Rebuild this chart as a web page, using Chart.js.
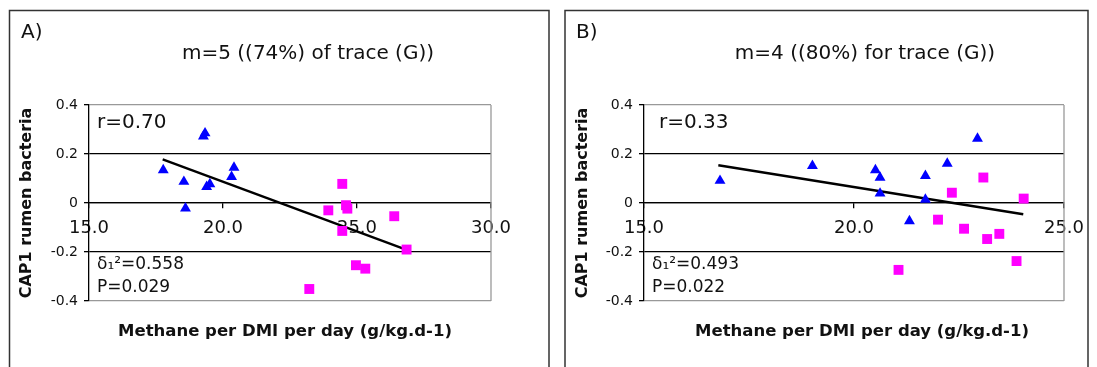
<!DOCTYPE html>
<html>
<head>
<meta charset="utf-8">
<script src="https://cdn.jsdelivr.net/npm/chart.js@4.4.0/dist/chart.umd.min.js"></script>
<style>
  html, body { margin: 0; padding: 0; background: #fff; }
  body { width: 1097px; height: 367px; position: relative; overflow: hidden; }
  .panel { position: absolute; top: 0; height: 367px; }
  #panelA { left: 0; width: 556px; }
  #panelB { left: 556px; width: 541px; }
</style>
</head>
<body>
<div class="panel" id="panelA"><canvas id="chartA" width="556" height="367"></canvas></div>
<div class="panel" id="panelB"><canvas id="chartB" width="541" height="367"></canvas></div>
<script>
// ---- data ----
var yTicks  = [-0.4, -0.2, 0, 0.2, 0.4];
var xTicksA = [15, 20, 25, 30];
var xTicksB = [15, 20, 25];

// panel A
var triAx = [17.77, 19.27, 19.33, 18.54, 18.60, 19.39, 19.51, 20.32, 20.41];
var triAy = [0.134, 0.272, 0.285, 0.087, -0.022, 0.066, 0.077, 0.107, 0.145];
var sqAx  = [24.45, 24.59, 24.64, 23.93, 26.39, 24.45, 24.96, 25.31, 23.22, 26.85];
var sqAy  = [0.078, -0.009, -0.023, -0.030, -0.054, -0.114, -0.254, -0.268, -0.351, -0.190];
var trendAx = [17.75, 26.83];
var trendAy = [0.178, -0.190];

// panel B
var triBx = [16.81, 19.01, 20.51, 20.62, 20.62, 21.70, 21.70, 22.22, 22.94, 21.32];
var triBy = [0.091, 0.152, 0.134, 0.104, 0.039, 0.111, 0.014, 0.161, 0.263, -0.074];
var sqBx  = [23.08, 22.33, 24.04, 22.00, 22.62, 23.17, 23.46, 23.87, 21.06];
var sqBy  = [0.104, 0.042, 0.018, -0.068, -0.105, -0.147, -0.126, -0.237, -0.273];
var trendBx = [16.77, 24.03];
var trendBy = [0.154, -0.046];

// texts
var yTitle = 'CAP1 rumen bacteria';
var xTitle = 'Methane per DMI per day (g/kg.d-1)';
var textA = { letter: 'A)', title: 'm=5 ((74%) of trace (G))', r: 'r=0.70', d: 'δ₁²=0.558', p: 'P=0.029' };
var textB = { letter: 'B)', title: 'm=4 ((80%) for trace (G))', r: 'r=0.33', d: 'δ₁²=0.493', p: 'P=0.022' };

function pts(xs, ys) {
    return xs.map(function (x, i) { return { x: x, y: ys[i] }; });
}

// frame, titles and notes drawn on top
var panelText = {
    id: 'panelText',
    beforeDatasetsDraw: function (chart) {
        var a = chart.chartArea, c = chart.ctx;
        c.save();
        c.strokeStyle = '#999';
        c.lineWidth = 1.3;
        c.beginPath();
        c.moveTo(a.right, a.top);
        c.lineTo(a.right, a.bottom);
        c.stroke();
        c.restore();
    },
    afterDraw: function (chart, args, o) {
        var a = chart.chartArea, c = chart.ctx, t = o.t;
        c.save();
        // panel frame
        c.strokeStyle = '#333';
        c.lineWidth = 1.5;
        c.beginPath();
        c.moveTo(o.frameL, 367);
        c.lineTo(o.frameL, 10.5);
        c.lineTo(o.frameR, 10.5);
        c.lineTo(o.frameR, 367);
        c.stroke();

        c.fillStyle = '#111';
        c.textBaseline = 'middle';
        c.textAlign = 'left';
        c.font = '20px "DejaVu Sans"';
        c.fillText(t.letter, o.letterX, 33);
        c.fillText(t.r, a.left + o.rOff, 123);
        c.textAlign = 'center';
        c.fillText(t.title, o.titleX, 54);

        c.textAlign = 'left';
        c.font = '17px "DejaVu Sans"';
        c.fillText(t.d, a.left + 8, 265);
        c.fillText(t.p, a.left + 8, 288);

        c.font = 'bold 16.5px "DejaVu Sans"';
        c.textAlign = 'center';
        c.fillText(xTitle, o.xTitleX, 332);
        c.font = 'bold 16px "DejaVu Sans"';
        c.translate(o.yTitleX, (a.top + a.bottom) / 2);
        c.rotate(-Math.PI / 2);
        c.fillText(yTitle, 0, 0);
        c.restore();
    }
};

function isEdge(v) { return Math.abs(Math.abs(v) - 0.4) < 1e-9; }

function makeChart(id, cfg) {
    return new Chart(document.getElementById(id), {
        type: 'scatter',
        data: {
            datasets: [
                { data: pts(cfg.triX, cfg.triY), pointStyle: 'triangle', pointRadius: 6.3,
                  backgroundColor: '#0000ff', borderColor: '#0000ff', borderWidth: 0 },
                { data: pts(cfg.sqX, cfg.sqY), pointStyle: 'rect', pointRadius: 7,
                  backgroundColor: '#ff00ff', borderColor: '#ff00ff', borderWidth: 0 },
                { data: pts(cfg.trendX, cfg.trendY), showLine: true, pointRadius: 0,
                  borderColor: '#000', borderWidth: 2.4, fill: false }
            ]
        },
        options: {
            responsive: false,
            animation: false,
            devicePixelRatio: 1,
            layout: { padding: cfg.pad },
            plugins: {
                legend: { display: false },
                tooltip: { enabled: false },
                panelText: cfg.text
            },
            scales: {
                x: {
                    type: 'linear',
                    position: { y: 0 },
                    min: cfg.xTicks[0],
                    max: cfg.xTicks[cfg.xTicks.length - 1],
                    afterBuildTicks: function (s) {
                        s.ticks = cfg.xTicks.map(function (v) { return { value: v }; });
                    },
                    ticks: {
                        callback: function (v) { return Number(v).toFixed(1); },
                        font: { family: 'DejaVu Sans', size: 18 },
                        color: '#111', padding: 10, maxRotation: 0, autoSkip: false
                    },
                    grid: { drawOnChartArea: false, tickLength: 5, tickColor: '#000', lineWidth: 1.3 },
                    border: { color: '#000', width: 1.3 }
                },
                y: {
                    min: -0.4,
                    max: 0.4,
                    afterBuildTicks: function (s) {
                        s.ticks = yTicks.map(function (v) { return { value: v }; });
                    },
                    afterFit: function (s) { s.width = 40; },
                    ticks: {
                        callback: function (v) { return Math.abs(v) < 1e-9 ? '0' : Number(v).toFixed(1); },
                        font: { family: 'DejaVu Sans', size: 14 },
                        color: '#111', padding: 6
                    },
                    grid: {
                        color: function (ctx) { return ctx.tick && isEdge(ctx.tick.value) ? '#999' : '#000'; },
                        tickColor: '#000', tickLength: 5, lineWidth: 1.3
                    },
                    border: { color: '#000', width: 1.3 }
                }
            }
        },
        plugins: [panelText]
    });
}

makeChart('chartA', {
    triX: triAx, triY: triAy, sqX: sqAx, sqY: sqAy, trendX: trendAx, trendY: trendAy,
    xTicks: xTicksA,
    pad: { left: 49, top: 105, right: 65, bottom: 66 },
    text: { t: textA, frameL: 9.5, frameR: 549, letterX: 21, titleX: 308, rOff: 8,
            xTitleX: 285, yTitleX: 27 }
});

makeChart('chartB', {
    triX: triBx, triY: triBy, sqX: sqBx, sqY: sqBy, trendX: trendBx, trendY: trendBy,
    xTicks: xTicksB,
    pad: { left: 48, top: 105, right: 33, bottom: 66 },
    text: { t: textB, frameL: 9, frameR: 532, letterX: 20, titleX: 309, rOff: 15,
            xTitleX: 306, yTitleX: 27 }
});
</script>
</body>
</html>
